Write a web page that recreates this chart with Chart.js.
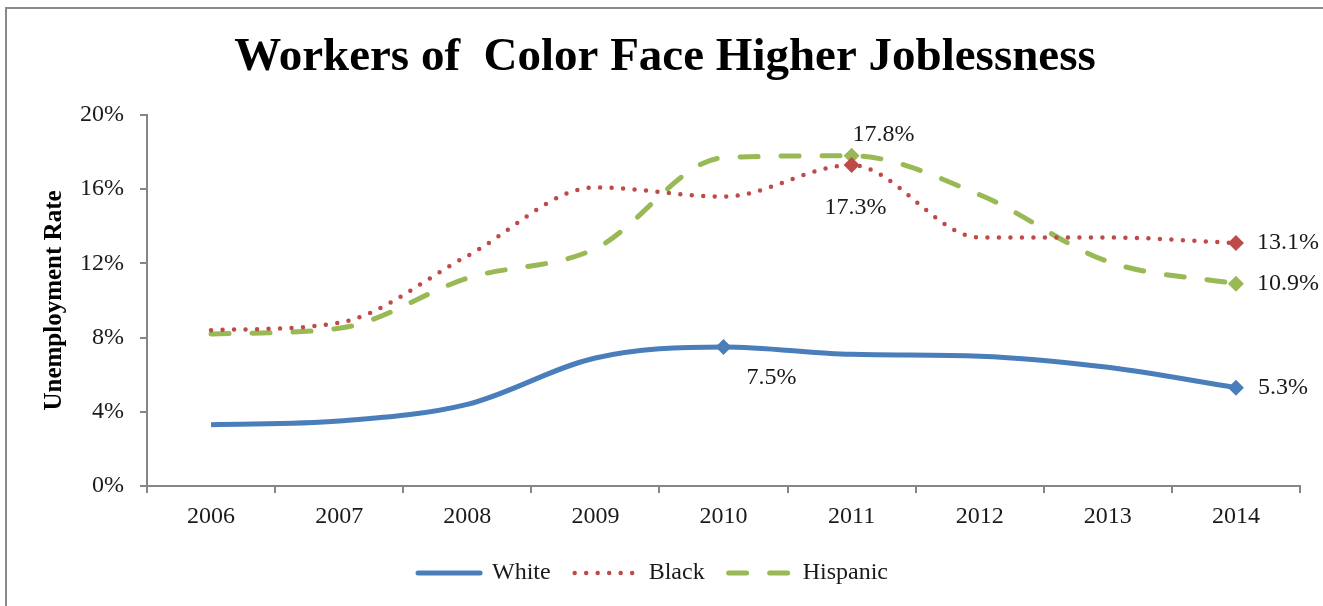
<!DOCTYPE html>
<html>
<head>
<meta charset="utf-8">
<script src="https://cdn.jsdelivr.net/npm/chart.js@4"></script>
<style>
  html, body { margin: 0; padding: 0; background: #fff; }
  #frame { position: absolute; left: 5px; top: 7px; width: 1330px; height: 620px;
           border-left: 2px solid #8a8a8a; border-top: 2px solid #8a8a8a; }
  #wrap { position: absolute; left: 0; top: 0; width: 1323px; height: 606px; }
</style>
</head>
<body>
<div id="frame"></div>
<div id="wrap"><canvas id="jobChart"></canvas></div>
<script>
// Unemployment rate by race/ethnicity, annual averages
const years = ['2006', '2007', '2008', '2009', '2010', '2011', '2012', '2013', '2014'];
const white = [3.3, 3.5, 4.4, 6.9, 7.5, 7.1, 7.0, 6.4, 5.3];
const black = [8.4, 8.8, 12.4, 16.1, 15.6, 17.3, 13.4, 13.4, 13.1];
const hispanic = [8.2, 8.5, 11.2, 12.8, 17.7, 17.8, 15.7, 12.1, 10.9];
const yTicks = [0, 4, 8, 12, 16, 20];

// which points get a marker and a value label
const whiteMarked = [4, 8];
const blackMarked = [5, 8];
const hispanicMarked = [5, 8];

const serif = '"Liberation Serif", "DejaVu Serif", serif';
const axisGray = '#868686';

function markerRadius(marked) {
    return ctx => marked.includes(ctx.dataIndex) ? 8 : 0;
}

// label placement around a marked point: [dx, dy, textAlign]
const labelSpots = {
    0: { 4: [23, 31, 'left'], 8: [22, 0, 'left'] },
    1: { 5: [4, 43, 'center'], 8: [21, 0, 'left'] },
    2: { 5: [1, -21, 'left'], 8: [21, 0, 'left'] }
};

const valueLabels = {
    id: 'valueLabels',
    afterDatasetsDraw(chart) {
        const ctx = chart.ctx;
        ctx.save();
        ctx.font = '24px ' + serif;
        ctx.fillStyle = '#1a1a1a';
        ctx.textBaseline = 'middle';
        chart.data.datasets.forEach((ds, i) => {
            const spots = labelSpots[i];
            const meta = chart.getDatasetMeta(i);
            Object.keys(spots).forEach(k => {
                const pt = meta.data[k];
                const [dx, dy, align] = spots[k];
                ctx.textAlign = align;
                ctx.fillText(ds.data[k].toFixed(1) + '%', pt.x + dx, pt.y + dy);
            });
        });
        ctx.restore();
    }
};

// nudge the legend row a little to the left of the title's centre
const legendNudge = {
    id: 'legendNudge',
    afterLayout(chart) {
        chart.legend.left -= 12;
        chart.legend.right -= 12;
    }
};

new Chart(document.getElementById('jobChart'), {
    type: 'line',
    data: {
        labels: years,
        datasets: [
            {
                label: 'White',
                data: white,
                borderColor: '#4A7EBB',
                backgroundColor: '#4A7EBB',
                borderWidth: 5,
                cubicInterpolationMode: 'monotone',
                pointStyle: 'rectRot',
                pointRadius: markerRadius(whiteMarked),
                pointBorderWidth: 0
            },
            {
                label: 'Black',
                data: black,
                borderColor: '#BE4B48',
                backgroundColor: '#BE4B48',
                borderWidth: 4.5,
                borderCapStyle: 'round',
                borderDash: [0, 11.5],
                cubicInterpolationMode: 'monotone',
                pointStyle: 'rectRot',
                pointRadius: markerRadius(blackMarked),
                pointBorderWidth: 0
            },
            {
                label: 'Hispanic',
                data: hispanic,
                borderColor: '#98B954',
                backgroundColor: '#98B954',
                borderWidth: 5,
                borderCapStyle: 'round',
                borderDash: [18, 23],
                cubicInterpolationMode: 'monotone',
                pointStyle: 'rectRot',
                pointRadius: markerRadius(hispanicMarked),
                pointBorderWidth: 0
            }
        ]
    },
    options: {
        responsive: true,
        maintainAspectRatio: false,
        animation: false,
        layout: { padding: { top: 7, left: 30, right: 23, bottom: 11 } },
        scales: {
            x: {
                offset: true,
                grid: { offset: true, drawOnChartArea: false, tickLength: 7, color: axisGray, lineWidth: 2 },
                border: { color: axisGray, width: 2 },
                ticks: { color: '#1a1a1a', font: { family: serif, size: 24 }, padding: 9, maxRotation: 0 },
                afterFit: scale => { scale.height = 51; }
            },
            y: {
                min: 0,
                max: 20,
                afterBuildTicks: scale => { scale.ticks = yTicks.map(v => ({ value: v })); },
                grid: { drawOnChartArea: false, tickLength: 7, color: axisGray, lineWidth: 2 },
                border: { color: axisGray, width: 2 },
                ticks: { color: '#1a1a1a', font: { family: serif, size: 24 }, padding: 16,
                         callback: v => v + '%' },
                title: { display: true, text: 'Unemployment Rate', color: '#000',
                         font: { family: serif, size: 25, weight: 'bold' }, padding: { top: 10, bottom: 0 } },
                afterFit: scale => { scale.width = 117; }
            }
        },
        plugins: {
            title: {
                display: true,
                text: 'Workers of  Color Face Higher Joblessness',
                color: '#000',
                font: { family: serif, size: 47, weight: 'bold' },
                padding: { top: 23, bottom: 28.6 }
            },
            legend: {
                position: 'bottom',
                labels: {
                    color: '#1a1a1a',
                    font: { family: serif, size: 24 },
                    usePointStyle: true,
                    pointStyleWidth: 62,
                    boxHeight: 4,
                    padding: 24,
                    generateLabels: chart => chart.data.datasets.map((ds, i) => ({
                        text: ds.label,
                        datasetIndex: i,
                        pointStyle: 'line',
                        strokeStyle: ds.borderColor,
                        fillStyle: ds.borderColor,
                        lineWidth: ds.borderWidth,
                        lineDash: ds.borderDash || [],
                        lineCap: 'round',
                        fontColor: '#1a1a1a'
                    }))
                }
            },
            tooltip: { enabled: false }
        }
    },
    plugins: [valueLabels, legendNudge]
});
</script>
</body>
</html>
